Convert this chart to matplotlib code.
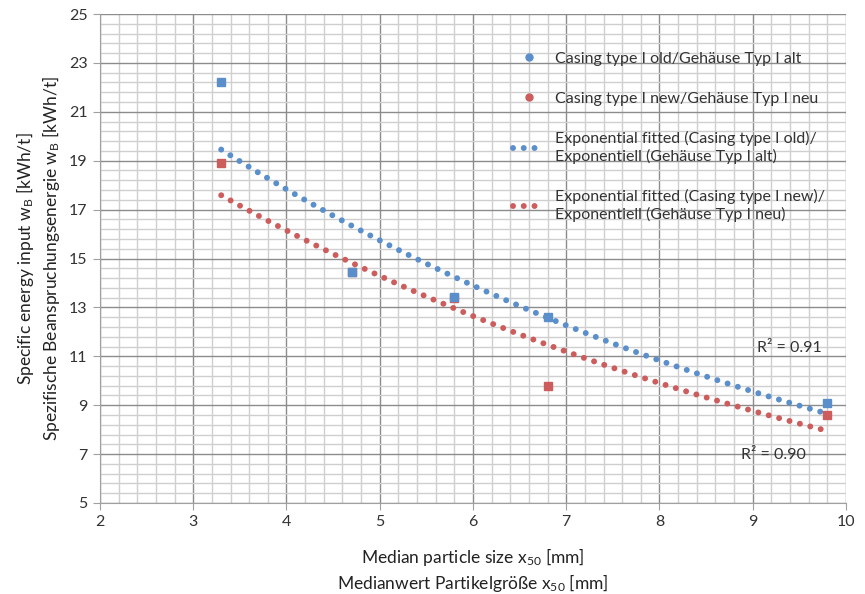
import numpy as np
import matplotlib
matplotlib.use("Agg")
import matplotlib.pyplot as plt
from matplotlib.lines import Line2D

plt.rcParams['font.family'] = ['Lato', 'DejaVu Sans']
plt.rcParams['mathtext.fontset'] = 'custom'
plt.rcParams['mathtext.rm'] = 'Lato'
plt.rcParams['mathtext.it'] = 'Lato:italic'

# data
x_old = [3.3, 4.7, 5.8, 6.8, 9.8]
y_old = [22.2, 14.45, 13.43, 12.6, 9.08]
x_new = [3.3, 4.7, 5.8, 6.8, 9.8]
y_new = [18.92, 14.45, 13.4, 9.78, 8.6]

x_ticks = [2, 3, 4, 5, 6, 7, 8, 9, 10]
y_ticks = [5, 7, 9, 11, 13, 15, 17, 19, 21, 23, 25]

lbl_old = "Casing type I old/Gehäuse Typ I alt"
lbl_new = "Casing type I new/Gehäuse Typ I neu"
lbl_fit_old = "Exponential fitted (Casing type I old)/\nExponentiell (Gehäuse Typ I alt)"
lbl_fit_new = "Exponential fitted (Casing type I new)/\nExponentiell (Gehäuse Typ I neu)"
r2_old = "R² = 0.91"
r2_new = "R² = 0.90"

BLUE = "#5A8FCB"
RED = "#CD5C5C"

fig = plt.figure(figsize=(8.65, 5.94), dpi=100)
ax = fig.add_axes([0.1156, 0.1532, 0.8624, 0.8232])

# exponential trendlines (as Excel does: fit of ln(y) on x)
def expfit(xs, ys):
    b, a = np.polyfit(xs, np.log(ys), 1)
    xx = np.linspace(min(xs), max(xs), 300)
    return xx, np.exp(a) * np.exp(b * xx)

dot = (0, (0.001, 1.8))
xf, yf = expfit(x_old, y_old)
ax.plot(xf, yf, color=BLUE, lw=4.3, linestyle=dot, dash_capstyle='round', zorder=3)
xf, yf = expfit(x_new, y_new)
ax.plot(xf, yf, color=RED, lw=4.3, linestyle=dot, dash_capstyle='round', zorder=3)

ax.plot(x_new, y_new, 's', color=RED, ms=5.5, zorder=4)
ax.plot(x_old, y_old, 's', color=BLUE, ms=5.5, zorder=5)

ax.set_xlim(2, 10)
ax.set_ylim(5, 25)
ax.set_xticks(x_ticks)
ax.set_yticks(y_ticks)
ax.set_xticks(np.arange(2, 10.01, 0.2), minor=True)
ax.set_yticks(np.arange(5, 25.01, 0.4), minor=True)
ax.grid(which='major', color='#8C8C8C', lw=1.0, zorder=1)
ax.grid(which='minor', color='#CFCFCF', lw=1.0, zorder=0)
ax.set_axisbelow(True)
for s in ['top', 'right']:
    ax.spines[s].set_visible(False)
for s in ['left', 'bottom']:
    ax.spines[s].set_color('#A0A0A0')
ax.tick_params(which='major', length=5, color='#A0A0A0', labelsize=11.5, labelcolor='#333333', pad=4)
ax.tick_params(which='minor', length=0)

ax.set_xlabel("Median particle size x$_{\\mathrm{50}}$ [mm]\nMedianwert Partikelgröße x$_{\\mathrm{50}}$ [mm]",
              fontsize=12.5, color='#222222', labelpad=12, linespacing=1.25)
ax.set_ylabel("Specific energy input w$_{\\mathrm{B}}$ [kWh/t]\nSpezifische Beanspruchungsenergie w$_{\\mathrm{B}}$ [kWh/t]",
              fontsize=12.5, color='#222222', labelpad=5, linespacing=1.25)

ax.text(9.74, 11.34, r2_old, ha='right', va='center', fontsize=11.5, color='#333333')
ax.text(9.57, 6.96, r2_new, ha='right', va='center', fontsize=11.5, color='#333333')

handles = [
    Line2D([], [], ls='none', marker='o', color=BLUE, ms=5),
    Line2D([], [], ls='none', marker='o', color=RED, ms=5),
    Line2D([], [], color=BLUE, lw=4.3, linestyle=dot, dash_capstyle='round'),
    Line2D([], [], color=RED, lw=4.3, linestyle=dot, dash_capstyle='round'),
]
ax.legend(handles, [lbl_old, lbl_new, lbl_fit_old, lbl_fit_new],
          loc='upper left', bbox_to_anchor=(0.535, 0.952), frameon=False,
          fontsize=11.5, labelspacing=1.6, handlelength=1.9, handletextpad=0.7,
          labelcolor='#333333')

fig.savefig("out.png", dpi=100)
